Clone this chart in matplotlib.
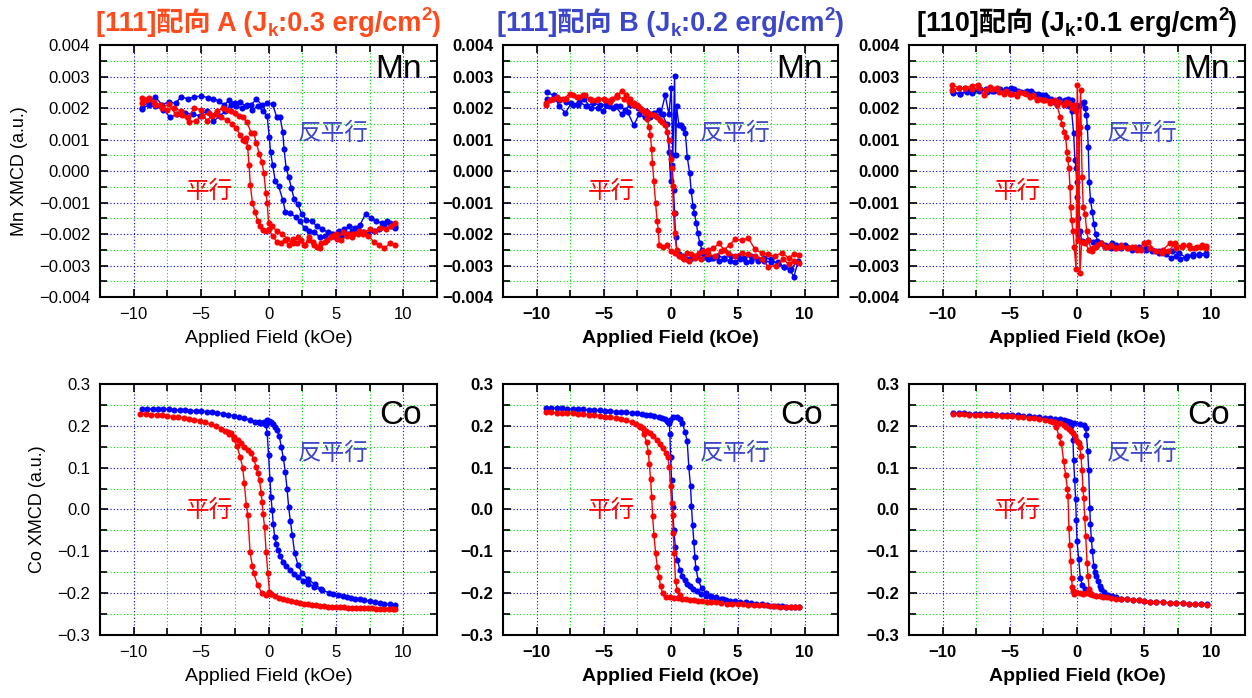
import matplotlib
matplotlib.use('Agg')
import matplotlib.pyplot as plt
from matplotlib.ticker import MultipleLocator, FuncFormatter
from matplotlib.transforms import offset_copy

# ---------------- Mn XMCD, [111] A ----------------
mnA_par_x1 = [-9.4, -8.9, -8.4, -7.9, -7.4, -6.9, -6.4, -5.9, -5.4, -4.9,
              -4.4, -3.9, -3.5, -3.1, -2.7, -2.4, -2.1, -1.9, -1.75, -1.65,
              -1.55, -1.45, -1.35, -1.2, -1.0, -0.8, -0.6, -0.4, -0.2, 0.0,
              0.3, 0.6, 0.9, 1.2, 1.5, 1.8, 2.1, 2.4, 2.7, 3.0,
              3.3, 3.6, 3.9, 4.3, 4.7, 5.1, 5.5, 5.9, 6.3, 6.7,
              7.1, 7.5, 7.9, 8.3, 8.7, 9.1, 9.4]
mnA_par_y1 = [0.00233, 0.00231, 0.00208, 0.0020, 0.00212, 0.0018, 0.00178, 0.00155, 0.0016, 0.00175,
              0.00185, 0.0018, 0.0017, 0.00162, 0.0015, 0.00135, 0.00115, 0.0010, 0.00095, 0.00105,
              0.00075, 0.0002, -0.00045, -0.0010, -0.0013, -0.0016, -0.00175, -0.00187, -0.0019, -0.00185,
              -0.00205, -0.00225, -0.0023, -0.0022, -0.00235, -0.00215, -0.0023, -0.0022, -0.00235, -0.0021,
              -0.00225, -0.0024, -0.0023, -0.0022, -0.00205, -0.00215, -0.00195, -0.0020, -0.0020, -0.0019,
              -0.00195, -0.00185, -0.0019, -0.0018, -0.00185, -0.00175, -0.00165]
mnA_par_x2 = [9.4, 9.0, 8.6, 8.2, 7.8, 7.4, 7.0, 6.6, 6.2, 5.8,
              5.4, 5.0, 4.6, 4.2, 3.8, 3.4, 3.0, 2.6, 2.2, 1.8,
              1.4, 1.0, 0.6, 0.25, 0.0, -0.1, -0.2, -0.35, -0.5, -0.7,
              -0.9, -1.1, -1.3, -1.6, -1.9, -2.2, -2.5, -2.8, -3.1, -3.4,
              -3.8, -4.2, -4.6, -5.0, -5.5, -6.0, -6.5, -7.0, -7.5, -8.0,
              -8.5, -9.0, -9.4]
mnA_par_y2 = [-0.00235, -0.0023, -0.00245, -0.00235, -0.00225, -0.00205, -0.0020, -0.0020, -0.0021, -0.00205,
              -0.0022, -0.0020, -0.0021, -0.00225, -0.00245, -0.00235, -0.0022, -0.00235, -0.0021, -0.0023,
              -0.00215, -0.0020, -0.0019, -0.00175, -0.00165, -0.0010, -0.0007, -0.00005, 0.0003, 0.00055,
              0.0009, 0.0012, 0.00122, 0.00155, 0.0017, 0.00175, 0.00185, 0.0019, 0.00195, 0.0020,
              0.0019, 0.00175, 0.0016, 0.00195, 0.0020, 0.0017, 0.0019, 0.0020, 0.00195, 0.0021,
              0.0022, 0.00225, 0.00215]
mnA_anti_x1 = [-9.4, -8.9, -8.4, -7.9, -7.4, -6.9, -6.5, -6.0, -5.5, -5.0,
               -4.5, -4.1, -3.7, -3.3, -2.9, -2.5, -2.1, -1.7, -1.3, -0.9,
               -0.5, -0.1, 0.3, 0.6, 0.85, 1.05, 1.15, 1.3, 1.5, 1.7,
               1.9, 2.15, 2.45, 2.8, 3.2, 3.6, 4.0, 4.4, 4.8, 5.2,
               5.6, 6.0, 6.4, 6.8, 7.2, 7.6, 8.0, 8.4, 8.8, 9.1, 9.4]
mnA_anti_y1 = [0.0020, 0.0022, 0.00235, 0.0021, 0.0022, 0.00215, 0.00235, 0.0023, 0.00235, 0.00238,
               0.00233, 0.0023, 0.00222, 0.0021, 0.00225, 0.00215, 0.0022, 0.00205, 0.0021, 0.00228,
               0.0021, 0.00215, 0.00212, 0.00172, 0.00172, 0.00125, 0.0007, 0.0001, -0.0002, -0.00055,
               -0.0009, -0.00105, -0.00135, -0.00155, -0.0016, -0.00175, -0.00185, -0.00195, -0.0020, -0.0019,
               -0.00185, -0.00175, -0.0018, -0.0017, -0.00135, -0.0015, -0.0016, -0.00165, -0.0016, -0.00175, -0.0018]
mnA_anti_x2 = [9.4, 9.0, 8.6, 8.2, 7.8, 7.4, 7.0, 6.6, 6.2, 5.8,
               5.4, 5.0, 4.6, 4.2, 3.8, 3.4, 3.0, 2.7, 2.3, 2.0,
               1.6, 1.25, 1.05, 0.75, 0.5, 0.3, 0.15, 0.05, -0.1, -0.4,
               -0.8, -1.2, -1.6, -2.0, -2.4, -2.8, -3.2, -3.6, -4.1, -4.6,
               -5.1, -5.6, -6.2, -6.8, -7.3, -7.8, -8.4, -8.9, -9.4]
mnA_anti_y2 = [-0.00175, -0.00165, -0.00175, -0.00185, -0.0019, -0.0020, -0.00195, -0.00185, -0.0019, -0.0020,
               -0.00205, -0.0021, -0.0020, -0.00205, -0.0021, -0.00195, -0.0019, -0.00182, -0.0016, -0.00145,
               -0.00134, -0.0013, -0.00091, -0.00049, -0.00033, 0.0002, 0.0006, 0.00108, 0.00174, 0.0019,
               0.00205, 0.00195, 0.0021, 0.0020, 0.00205, 0.0021, 0.0019, 0.00175, 0.00158, 0.0019,
               0.00175, 0.0018, 0.00185, 0.0018, 0.0017, 0.00195, 0.00205, 0.0021, 0.00196]

# ---------------- Mn XMCD, [111] B ----------------
mnB_par_x1 = [-9.3, -8.8, -8.3, -7.8, -7.3, -6.8, -6.4, -5.9, -5.4, -4.9,
              -4.4, -4.0, -3.6, -3.3, -3.0, -2.7, -2.4, -2.1, -1.9, -1.75,
              -1.6, -1.5, -1.42, -1.35, -1.25, -1.12, -1.0, -0.92, -0.84, -0.6,
              -0.3, 0.0, 0.3, 0.6, 0.9, 1.2, 1.5, 1.8, 2.1, 2.4,
              2.8, 3.2, 3.6, 4.0, 4.4, 4.8, 5.3, 5.8, 6.3, 6.8,
              7.3, 7.8, 8.3, 8.8, 9.2, 9.6]
mnB_par_y1 = [0.0021, 0.0023, 0.0023, 0.0023, 0.0024, 0.00235, 0.0024, 0.00225, 0.0023, 0.00225,
              0.0023, 0.0024, 0.00255, 0.0024, 0.0023, 0.00215, 0.00205, 0.00195, 0.00185, 0.00165,
              0.0014, 0.00114, 0.0007, 0.00027, -0.00032, -0.00101, -0.0016, -0.00187, -0.00235, -0.0024,
              -0.00235, -0.00255, -0.0026, -0.0027, -0.00275, -0.0026, -0.00265, -0.0027, -0.0026, -0.00255,
              -0.0025, -0.00245, -0.0023, -0.0025, -0.00235, -0.00217, -0.00219, -0.00213, -0.00249, -0.0026,
              -0.00265, -0.0027, -0.0026, -0.00275, -0.00265, -0.00267]
mnB_par_x2 = [9.6, 9.2, 8.8, 8.4, 7.9, 7.3, 6.8, 6.3, 5.8, 5.3,
              4.8, 4.3, 3.8, 3.3, 2.8, 2.3, 1.8, 1.4, 1.0, 0.7,
              0.45, 0.3, 0.22, 0.15, 0.08, 0.0, -0.12, -0.25, -0.45, -0.62,
              -0.8, -1.0, -1.25, -1.5, -1.75, -2.0, -2.25, -2.5, -2.8, -3.1,
              -3.5, -4.0, -4.5, -5.0, -5.5, -6.0, -6.5, -7.0, -7.5, -8.0,
              -8.5, -9.0, -9.3]
mnB_par_y2 = [-0.00293, -0.00285, -0.00295, -0.0028, -0.0030, -0.00304, -0.0028, -0.0027, -0.00265, -0.0026,
              -0.0027, -0.0026, -0.00255, -0.0027, -0.00265, -0.0028, -0.00275, -0.00285, -0.0028, -0.0027,
              -0.0025, -0.00197, -0.00133, -0.00048, 0.0001, 0.00037, 0.0010, 0.00123, 0.00145, 0.00155,
              0.00162, 0.0017, 0.00178, 0.00181, 0.00188, 0.00192, 0.0020, 0.00208, 0.0021, 0.0022,
              0.0023, 0.00235, 0.0022, 0.0023, 0.00225, 0.0023, 0.0024, 0.00235, 0.00245, 0.0023,
              0.00235, 0.00225, 0.00215]
mnB_anti_x1 = [-9.25, -8.7, -8.3, -7.85, -7.4, -6.9, -6.45, -5.95, -5.45, -5.05,
               -4.6, -4.1, -3.65, -3.2, -2.75, -2.35, -1.9, -1.5, -1.1, -0.75,
               -0.4, -0.12, 0.05, 0.17, 0.3, 0.37, 0.45, 0.62, 0.75, 0.95,
               1.1, 1.25, 1.42, 1.54, 1.68, 1.78, 1.92, 2.03, 2.18, 2.35,
               2.5, 2.8, 3.2, 3.6, 4.0, 4.4, 4.8, 5.2, 5.6, 6.0,
               6.5, 7.0, 7.5, 8.0, 8.5, 8.9, 9.2, 9.5]
mnB_anti_y1 = [0.0025, 0.0024, 0.00205, 0.00185, 0.00215, 0.0021, 0.0023, 0.0020, 0.0020, 0.00192,
               0.00205, 0.00205, 0.0018, 0.00187, 0.00145, 0.0018, 0.0017, 0.0018, 0.00175, 0.0018,
               0.0024, 0.0018, 0.00265, 0.0005, 0.00302, 0.0005, 0.00205, 0.00145, 0.00145, 0.00138,
               0.00122, 0.00043, -0.00005, -0.00064, -0.00112, -0.00133, -0.00165, -0.00197, -0.00229, -0.0025,
               -0.00272, -0.0028, -0.00275, -0.00285, -0.0028, -0.00285, -0.0029, -0.0028, -0.0029, -0.00285,
               -0.0028, -0.00285, -0.0029, -0.0029, -0.00305, -0.00315, -0.00335, -0.0029]
mnB_anti_x2 = [9.5, 9.0, 8.5, 8.0, 7.5, 7.0, 6.5, 6.0, 5.5, 5.0,
               4.5, 4.0, 3.5, 3.0, 2.5, 2.0, 1.6, 1.2, 0.9, 0.6,
               0.5, 0.37, 0.3, 0.22, 0.12, 0.0, -0.1, -0.3, -0.6, -0.9,
               -1.2, -1.5, -1.8, -2.1, -2.4, -2.7, -3.0, -3.4, -3.8, -4.3,
               -4.8, -5.3, -5.8, -6.3, -6.8, -7.3, -7.8, -8.3, -8.8, -9.25]
mnB_anti_y2 = [-0.00285, -0.0031, -0.00305, -0.00295, -0.0028, -0.00275, -0.00285, -0.0027, -0.00275, -0.0027,
               -0.0027, -0.00275, -0.0027, -0.00275, -0.00265, -0.0027, -0.00275, -0.0028, -0.0027, -0.00265,
               -0.00261, -0.00208, -0.00133, -0.0006, 0.0002, -0.00032, 0.0006, 0.0015, 0.0018, 0.00195,
               0.00185, 0.0017, 0.0019, 0.00195, 0.0020, 0.0021, 0.0021, 0.00195, 0.00205, 0.0020,
               0.0021, 0.0021, 0.00215, 0.00205, 0.0022, 0.0021, 0.0022, 0.00225, 0.0023, 0.0023]

# ---------------- Mn XMCD, [110] ----------------
mnC_par_x1 = [-9.3, -8.8, -8.3, -7.8, -7.4, -6.95, -6.45, -5.95, -5.45, -4.95,
              -4.45, -3.95, -3.5, -3.0, -2.5, -2.0, -1.5, -1.25, -1.1, -0.95,
              -0.84, -0.75, -0.69, -0.6, -0.52, -0.47, -0.4, -0.3, -0.2, -0.07,
              0.02, 0.12, 0.22, 0.35, 0.6, 0.9, 1.2, 1.5, 1.8, 2.1,
              2.5, 2.9, 3.3, 3.7, 4.1, 4.5, 5.0, 5.4, 5.9, 6.4,
              6.9, 7.4, 7.9, 8.4, 8.9, 9.3, 9.6]
mnC_par_y1 = [0.00274, 0.00264, 0.00264, 0.00271, 0.00274, 0.00242, 0.00267, 0.00264, 0.00245, 0.00245,
              0.00237, 0.00248, 0.00235, 0.00226, 0.00226, 0.00221, 0.0021, 0.00173, 0.0015, 0.00125,
              0.00109, 0.0006, 0.00037, 0.00008, -0.0005, -0.00115, -0.00157, -0.0019, -0.00242, -0.00311,
              0.00274, 0.0012, -0.00325, -0.00225, -0.0023, -0.0025, -0.00245, -0.00235, -0.0023, -0.0024,
              -0.00235, -0.00245, -0.0024, -0.00245, -0.0024, -0.0025, -0.0023, -0.00245, -0.00255, -0.0025,
              -0.0023, -0.00245, -0.00235, -0.00245, -0.0024, -0.00235, -0.00237]
mnC_par_x2 = [9.6, 9.2, 8.8, 8.3, 7.8, 7.3, 6.8, 6.3, 5.8, 5.3,
              4.8, 4.3, 3.8, 3.3, 2.8, 2.3, 1.8, 1.4, 1.1, 0.85,
              0.72, 0.6, 0.47, 0.38, 0.27, 0.2, 0.1, -0.05, -0.2, -0.4,
              -0.6, -0.8, -1.0, -1.3, -1.6, -2.0, -2.4, -2.8, -3.3, -3.8,
              -4.3, -4.8, -5.3, -5.8, -6.3, -6.8, -7.3, -7.8, -8.3, -8.8, -9.3]
mnC_par_y2 = [-0.00245, -0.0024, -0.00245, -0.00235, -0.0024, -0.0023, -0.00255, -0.0026, -0.00255, -0.00225,
              -0.0025, -0.0024, -0.00245, -0.00235, -0.00245, -0.0024, -0.0023, -0.0024, -0.00255, -0.0022,
              -0.00189, -0.00136, -0.00115, -0.0002, 0.00256, 0.0014, -0.0022, 0.0019, 0.0021, 0.0020,
              0.00215, 0.0022, 0.0021, 0.0022, 0.00225, 0.00215, 0.00225, 0.0023, 0.0024, 0.00245,
              0.0025, 0.00245, 0.00255, 0.0025, 0.0026, 0.00258, 0.00265, 0.0026, 0.00265, 0.00262, 0.00258]
mnC_anti_x1 = [-9.2, -8.7, -8.2, -7.8, -7.3, -6.8, -6.3, -5.8, -5.3, -4.9,
               -4.4, -3.9, -3.4, -2.9, -2.4, -1.9, -1.4, -1.0, -0.7, -0.4,
               -0.1, 0.15, 0.35, 0.5, 0.6, 0.7, 0.77, 0.84, 0.91, 1.01,
               1.14, 1.26, 1.38, 1.51, 1.8, 2.1, 2.5, 2.9, 3.3, 3.7,
               4.1, 4.6, 5.1, 5.6, 6.1, 6.6, 7.0, 7.4, 7.7, 8.2,
               8.6, 9.1, 9.6]
mnC_anti_y1 = [0.00248, 0.00245, 0.00255, 0.00248, 0.00255, 0.0026, 0.00255, 0.00258, 0.0026, 0.00264,
               0.00255, 0.0025, 0.00255, 0.00245, 0.0024, 0.0023, 0.0022, 0.00215, 0.0023, 0.00225,
               0.0021, 0.00205, 0.00216, 0.0022, 0.0020, 0.00178, 0.00141, 0.00077, -0.00035, -0.00093,
               -0.0013, -0.00168, -0.0020, -0.00221, -0.0023, -0.0024, -0.00245, -0.00235, -0.00245, -0.0024,
               -0.0025, -0.00245, -0.0025, -0.00255, -0.0026, -0.00265, -0.00275, -0.0027, -0.0028, -0.0027,
               -0.00265, -0.00268, -0.00266]
mnC_anti_x2 = [9.6, 9.1, 8.6, 8.1, 7.6, 7.1, 6.6, 6.1, 5.6, 5.1,
               4.6, 4.1, 3.6, 3.1, 2.6, 2.1, 1.6, 1.2, 0.8, 0.5,
               0.35, 0.22, 0.1, 0.05, 0.02, -0.02, -0.08, -0.15, -0.25, -0.4,
               -0.6, -0.9, -1.3, -1.7, -2.2, -2.7, -3.2, -3.7, -4.2, -4.7,
               -5.2, -5.7, -6.2, -6.7, -7.2, -7.7, -8.2, -8.7, -9.2]
mnC_anti_y2 = [-0.0026, -0.00265, -0.0027, -0.00275, -0.0026, -0.00255, -0.0026, -0.00255, -0.0025, -0.00245,
               -0.0024, -0.00245, -0.00235, -0.0024, -0.0023, -0.00235, -0.0023, -0.00225, -0.0022, -0.00225,
               -0.00221, -0.0019, -0.0020, -0.0015, -0.00082, -0.00035, 0.0001, 0.00035, 0.0012, 0.0019,
               0.00205, 0.00225, 0.0023, 0.0022, 0.00235, 0.0024, 0.00245, 0.00255, 0.0025, 0.0026,
               0.00255, 0.0026, 0.00255, 0.0025, 0.0026, 0.00255, 0.0025, 0.00245, 0.0025]

# ---------------- Co XMCD, [111] A ----------------
coA_par_x1 = [-9.5, -9.1, -8.7, -8.3, -7.9, -7.5, -7.1, -6.7, -6.3, -5.9,
              -5.5, -5.1, -4.7, -4.3, -3.9, -3.5, -3.2, -2.9, -2.6, -2.34,
              -2.1, -1.92, -1.8, -1.65, -1.54, -1.37, -1.2, -1.1, -0.8, -0.5,
              -0.2, 0.2, 0.5, 0.8, 1.1, 1.4, 1.7, 2.0, 2.3, 2.6,
              2.9, 3.2, 3.5, 3.8, 4.1, 4.4, 4.7, 5.0, 5.3, 5.6,
              5.9, 6.2, 6.5, 6.8, 7.1, 7.4, 7.7, 8.0, 8.3, 8.6,
              8.9, 9.2, 9.4]
coA_par_y1 = [0.229, 0.228, 0.227, 0.226, 0.225, 0.224, 0.222, 0.221, 0.219, 0.217,
              0.215, 0.212, 0.208, 0.204, 0.199, 0.193, 0.187, 0.180, 0.168, 0.151,
              0.125, 0.100, 0.064, 0.010, -0.014, -0.102, -0.135, -0.153, -0.181, -0.200,
              -0.205, -0.202, -0.207, -0.211, -0.214, -0.217, -0.219, -0.221, -0.223, -0.225,
              -0.226, -0.228, -0.229, -0.230, -0.231, -0.232, -0.233, -0.233, -0.234, -0.234,
              -0.235, -0.235, -0.235, -0.236, -0.236, -0.236, -0.236, -0.237, -0.237, -0.237,
              -0.237, -0.237, -0.237]
coA_par_x2 = [-3.0, -2.79, -2.55, -2.29, -2.05, -1.79, -1.55, -1.29, -1.1, -0.92,
              -0.8, -0.67, -0.55, -0.48, -0.4, -0.3, -0.18, -0.05, 0.07, 0.2]
coA_par_y2 = [0.186, 0.182, 0.174, 0.166, 0.158, 0.150, 0.143, 0.134, 0.120, 0.102,
              0.088, 0.070, 0.040, 0.018, -0.010, -0.042, -0.101, -0.153, -0.197, -0.202]
coA_anti_x1 = [-9.4, -9.0, -8.6, -8.2, -7.8, -7.4, -7.0, -6.6, -6.2, -5.8,
               -5.4, -5.0, -4.6, -4.2, -3.8, -3.4, -3.0, -2.6, -2.2, -1.8,
               -1.4, -1.0, -0.7, -0.4, -0.2, -0.1, 0.0, 0.1, 0.18, 0.27,
               0.35, 0.45, 0.57, 0.7, 0.88, 1.07, 1.3, 1.57, 1.9, 2.2,
               2.55, 2.94, 3.4, 3.93, 4.5, 4.8, 5.17, 5.5, 5.8, 6.1,
               6.4, 6.75, 7.1, 7.5, 7.9, 8.25, 8.6, 9.0, 9.4]
coA_anti_y1 = [0.241, 0.241, 0.240, 0.240, 0.240, 0.239, 0.238, 0.237, 0.237, 0.236,
               0.235, 0.235, 0.234, 0.232, 0.231, 0.229, 0.227, 0.224, 0.221, 0.218,
               0.214, 0.210, 0.208, 0.206, 0.203, 0.183, 0.130, 0.074, 0.030, -0.002,
               -0.035, -0.065, -0.083, -0.097, -0.112, -0.125, -0.136, -0.145, -0.154, -0.161,
               -0.170, -0.177, -0.186, -0.193, -0.199, -0.202, -0.205, -0.207, -0.209, -0.211,
               -0.213, -0.215, -0.217, -0.219, -0.221, -0.223, -0.225, -0.227, -0.229]
coA_anti_x2 = [-0.6, -0.35, -0.1, 0.05, 0.19, 0.35, 0.5, 0.64, 0.8, 0.94,
               1.1, 1.24, 1.37, 1.49, 1.62, 1.76, 1.94, 2.19, 2.49, 2.94, 3.43, 3.9]
coA_anti_y2 = [0.206, 0.208, 0.2135, 0.212, 0.209, 0.204, 0.198, 0.191, 0.175, 0.150,
               0.122, 0.090, 0.050, 0.006, -0.028, -0.061, -0.105, -0.133, -0.152, -0.167, -0.179, -0.190]

# ---------------- Co XMCD, [111] B ----------------
coB_par_x1 = [-9.3, -8.9, -8.5, -8.1, -7.7, -7.3, -6.9, -6.5, -6.1, -5.7,
              -5.3, -4.9, -4.5, -4.1, -3.7, -3.3, -2.9, -2.55, -2.25, -1.99,
              -1.79, -1.66, -1.59, -1.49, -1.41, -1.34, -1.24, -1.12, -0.99, -0.87,
              -0.74, -0.6, -0.35, -0.05, 0.25, 0.55, 0.85, 1.15, 1.45, 1.75,
              2.05, 2.35, 2.7, 3.05, 3.4, 3.8, 4.2, 4.6, 5.0, 5.4,
              5.8, 6.2, 6.6, 7.0, 7.4, 7.8, 8.2, 8.6, 9.0, 9.3, 9.6]
coB_par_y1 = [0.232, 0.232, 0.231, 0.231, 0.230, 0.230, 0.229, 0.228, 0.227, 0.226,
              0.224, 0.222, 0.220, 0.218, 0.216, 0.213, 0.209, 0.204, 0.198, 0.180,
              0.162, 0.138, 0.109, 0.072, 0.031, -0.016, -0.061, -0.103, -0.137, -0.161,
              -0.184, -0.200, -0.210, -0.210, -0.211, -0.212, -0.213, -0.215, -0.216, -0.217,
              -0.218, -0.219, -0.220, -0.221, -0.222, -0.224, -0.225, -0.226, -0.226, -0.227,
              -0.228, -0.228, -0.229, -0.229, -0.230, -0.231, -0.232, -0.232, -0.233, -0.234, -0.234]
coB_par_x2 = [-2.25, -2.03, -1.8, -1.54, -1.3, -1.04, -0.8, -0.55, -0.35, -0.2,
              -0.1, 0.0, 0.07, 0.15, 0.2, 0.27, 0.37, 0.5, 0.7]
coB_par_y2 = [0.199, 0.194, 0.188, 0.182, 0.175, 0.166, 0.157, 0.146, 0.135, 0.125,
              0.102, 0.055, 0.015, -0.013, -0.057, -0.105, -0.172, -0.192, -0.205]
coB_anti_x1 = [-9.3, -8.9, -8.5, -8.1, -7.7, -7.3, -6.9, -6.5, -6.1, -5.7,
               -5.3, -4.9, -4.5, -4.1, -3.7, -3.3, -2.9, -2.5, -2.1, -1.8,
               -1.5, -1.2, -0.9, -0.65, -0.42, -0.2, -0.1, -0.05, 0.0, 0.07,
               0.15, 0.25, 0.35, 0.5, 0.7, 0.88, 1.07, 1.25, 1.44, 1.7,
               1.94, 2.3, 2.68, 3.05, 3.42, 3.8, 4.17]
coB_anti_y1 = [0.243, 0.243, 0.242, 0.242, 0.241, 0.240, 0.239, 0.239, 0.238, 0.237,
               0.237, 0.236, 0.235, 0.234, 0.233, 0.232, 0.231, 0.230, 0.228, 0.227,
               0.225, 0.223, 0.220, 0.218, 0.2155, 0.210, 0.206, 0.180, 0.126, 0.070,
               0.007, -0.049, -0.089, -0.120, -0.145, -0.158, -0.168, -0.177, -0.184, -0.190,
               -0.196, -0.202, -0.207, -0.210, -0.212, -0.214, -0.216]
coB_anti_x2 = [-0.3, -0.05, 0.2, 0.5, 0.7, 0.89, 1.07, 1.24, 1.36, 1.49,
               1.56, 1.64, 1.74, 1.81, 1.89, 2.06, 2.31, 2.68, 3.05, 3.42,
               3.9, 4.42, 4.8, 5.16, 5.6, 6.0, 6.4, 6.8, 7.2, 7.64,
               8.0, 8.3, 8.63, 9.0, 9.3, 9.58]
coB_anti_y2 = [0.212, 0.214, 0.220, 0.220, 0.216, 0.206, 0.186, 0.164, 0.102, 0.055,
               0.009, -0.037, -0.078, -0.113, -0.141, -0.168, -0.188, -0.200, -0.206, -0.210,
               -0.215, -0.218, -0.219, -0.220, -0.222, -0.224, -0.226, -0.227, -0.229, -0.230,
               -0.231, -0.231, -0.232, -0.232, -0.232, -0.232]

# ---------------- Co XMCD, [110] ----------------
coC_par_x1 = [-9.2, -8.8, -8.4, -8.0, -7.6, -7.2, -6.8, -6.4, -6.0, -5.6,
              -5.2, -4.8, -4.4, -4.0, -3.6, -3.2, -2.8, -2.4, -2.0, -1.75,
              -1.54, -1.34, -1.16, -0.99, -0.84, -0.72, -0.67, -0.6, -0.53, -0.47,
              -0.4, -0.35, -0.3, -0.2, -0.05, 0.2, 0.45, 0.7, 0.94, 1.2,
              1.45, 1.7, 1.93, 2.2, 2.5, 2.92, 3.3, 3.7, 4.16, 4.6,
              5.0, 5.4, 5.9, 6.4, 6.9, 7.4, 7.88, 8.3, 8.8, 9.2, 9.67]
coC_par_y1 = [0.228, 0.228, 0.228, 0.227, 0.227, 0.226, 0.226, 0.225, 0.225, 0.224,
              0.223, 0.223, 0.222, 0.221, 0.219, 0.218, 0.216, 0.214, 0.212, 0.208,
              0.198, 0.175, 0.159, 0.115, 0.083, 0.050, 0.032, -0.044, -0.085, -0.123,
              -0.163, -0.185, -0.195, -0.202, -0.198, -0.200, -0.201, -0.200, -0.202, -0.205,
              -0.207, -0.208, -0.209, -0.210, -0.211, -0.213, -0.214, -0.215, -0.216, -0.217,
              -0.218, -0.220, -0.221, -0.222, -0.223, -0.224, -0.224, -0.225, -0.226, -0.227, -0.228]
coC_par_x2 = [-1.6, -1.29, -1.0, -0.79, -0.6, -0.42, -0.3, -0.17, -0.05, 0.05,
              0.12, 0.2, 0.3, 0.37, 0.45, 0.5, 0.58, 0.65, 0.75, 0.82, 0.9, 1.0]
coC_par_y2 = [0.209, 0.206, 0.203, 0.198, 0.193, 0.187, 0.182, 0.175, 0.167, 0.162,
              0.158, 0.150, 0.127, 0.095, 0.050, 0.028, -0.020, -0.064, -0.127, -0.159, -0.190, -0.200]
coC_anti_x1 = [-9.2, -8.8, -8.4, -8.0, -7.6, -7.2, -6.8, -6.4, -6.0, -5.6,
               -5.2, -4.8, -4.4, -4.0, -3.6, -3.2, -2.8, -2.4, -2.0, -1.6,
               -1.29, -1.0, -0.75, -0.55, -0.42, -0.3, -0.25, -0.17, -0.1, -0.05,
               0.0, 0.13, 0.25, 0.4, 0.6, 0.85, 1.05]
coC_anti_y1 = [0.230, 0.230, 0.230, 0.229, 0.229, 0.229, 0.228, 0.228, 0.227, 0.227,
               0.226, 0.226, 0.225, 0.224, 0.223, 0.222, 0.221, 0.219, 0.218, 0.217,
               0.216, 0.214, 0.212, 0.210, 0.200, 0.167, 0.119, 0.070, 0.024, -0.025,
               -0.075, -0.119, -0.165, -0.180, -0.190, -0.198, -0.201]
coC_anti_x2 = [-0.6, -0.2, 0.2, 0.5, 0.64, 0.7, 0.8, 0.87, 0.95, 1.0,
               1.07, 1.15, 1.25, 1.35, 1.45, 1.56, 1.69, 1.81, 2.0, 2.3,
               2.6, 2.92, 3.3, 3.7, 4.16, 4.6, 5.0, 5.4, 5.9, 6.4,
               6.9, 7.4, 7.88, 8.3, 8.8, 9.2, 9.67]
coC_anti_y2 = [0.210, 0.207, 0.205, 0.203, 0.194, 0.179, 0.140, 0.095, 0.004, -0.035,
               -0.071, -0.100, -0.135, -0.150, -0.159, -0.170, -0.183, -0.190, -0.198, -0.205,
               -0.208, -0.210, -0.213, -0.215, -0.216, -0.217, -0.219, -0.220, -0.221, -0.222,
               -0.223, -0.224, -0.224, -0.225, -0.225, -0.226, -0.226]

# title pieces: (text, kind) with kind n=normal, sub, sup
titles = [
    [('[111]配向 A (J', 'n'), ('k', 'sub'), (':0.3 erg/cm', 'n'), ('2', 'sup'), (')', 'n')],
    [('[111]配向 B (J', 'n'), ('k', 'sub'), (':0.2 erg/cm', 'n'), ('2', 'sup'), (')', 'n')],
    [('[110]配向 (J', 'n'), ('k', 'sub'), (':0.1 erg/cm', 'n'), ('2', 'sup'), (')', 'n')],
]
title_colors = ['#FF4A1C', '#3C46C8', '#000000']

mn_panels = [
    [(mnA_anti_x1, mnA_anti_y1), (mnA_anti_x2, mnA_anti_y2), (mnA_par_x1, mnA_par_y1), (mnA_par_x2, mnA_par_y2)],
    [(mnB_anti_x1, mnB_anti_y1), (mnB_anti_x2, mnB_anti_y2), (mnB_par_x1, mnB_par_y1), (mnB_par_x2, mnB_par_y2)],
    [(mnC_anti_x1, mnC_anti_y1), (mnC_anti_x2, mnC_anti_y2), (mnC_par_x1, mnC_par_y1), (mnC_par_x2, mnC_par_y2)],
]
co_panels = [
    [(coA_anti_x1, coA_anti_y1), (coA_anti_x2, coA_anti_y2), (coA_par_x1, coA_par_y1), (coA_par_x2, coA_par_y2)],
    [(coB_anti_x1, coB_anti_y1), (coB_anti_x2, coB_anti_y2), (coB_par_x1, coB_par_y1), (coB_par_x2, coB_par_y2)],
    [(coC_anti_x1, coC_anti_y1), (coC_anti_x2, coC_anti_y2), (coC_par_x1, coC_par_y1), (coC_par_x2, coC_par_y2)],
]
curve_colors = ['#0000FF', '#0000FF', '#FF0000', '#FF0000']

plt.rcParams['font.family'] = ['Liberation Sans', 'Noto Sans CJK JP', 'DejaVu Sans']
plt.rcParams['axes.unicode_minus'] = True

fig = plt.figure(figsize=(12.52, 6.98), dpi=100)
renderer = fig.canvas.get_renderer()

lefts = [0.0799, 0.4018, 0.7260]
widths = [0.2692, 0.2676, 0.2684]
rows = [(0.5745, 0.3610), (0.0903, 0.3596)]


def fmt3(v, pos):
    s = f'{v:.3f}'
    if s == '-0.000':
        s = '0.000'
    return s.replace('-', '\u2212')


def fmt1(v, pos):
    s = f'{v:.1f}'
    if s == '-0.0':
        s = '0.0'
    return s.replace('-', '\u2212')


def rich_title(ax, pieces, y, color):
    # lay out the pieces left to right, centred over the axes
    placed = []
    total = 0.0
    for s, kind in pieces:
        size = 19.5 if kind == 'n' else 13.5
        t = ax.text(0.5, y, s, transform=ax.transAxes, ha='left', va='baseline',
                    fontsize=size, fontweight='bold', color=color,
                    family=['Liberation Sans', 'Noto Sans CJK JP'])
        w = t.get_window_extent(renderer).width
        placed.append((t, w, kind))
        total += w
    x = -total / 2
    for t, w, kind in placed:
        dy = {'n': 0, 'sub': -5, 'sup': 11}[kind]
        t.set_transform(offset_copy(ax.transAxes, fig=fig, x=x, y=dy, units='dots'))
        x += w


for r, (elem, panels) in enumerate([('Mn', mn_panels), ('Co', co_panels)]):
    bottom, height = rows[r]
    for c in range(3):
        ax = fig.add_axes([lefts[c], bottom, widths[c], height])
        for (xs, ys), col in zip(panels[c], curve_colors):
            ax.plot(xs, ys, color=col, lw=1.0, marker='o', ms=4.4, mew=0, zorder=3)

        ax.set_xlim(-12.5, 12.5)
        ax.xaxis.set_major_locator(MultipleLocator(5))
        ax.xaxis.set_minor_locator(MultipleLocator(2.5))
        if elem == 'Mn':
            ax.set_ylim(-0.004, 0.004)
            ax.yaxis.set_major_locator(MultipleLocator(0.001))
            ax.yaxis.set_minor_locator(MultipleLocator(0.0005))
            ax.yaxis.set_major_formatter(FuncFormatter(fmt3))
        else:
            ax.set_ylim(-0.3, 0.3)
            ax.yaxis.set_major_locator(MultipleLocator(0.1))
            ax.yaxis.set_minor_locator(MultipleLocator(0.05))
            ax.yaxis.set_major_formatter(FuncFormatter(fmt1))

        ax.set_axisbelow(True)
        ax.grid(which='major', color='#0000FF', linestyle=(0, (1, 2)), lw=0.8)
        ax.grid(which='minor', color='#00E000', linestyle=(0, (1, 2)), lw=0.8)
        ax.tick_params(which='both', direction='in', top=True, right=True, width=1.2)
        ax.tick_params(which='major', length=6, labelsize=12, pad=7)
        ax.tick_params(which='minor', length=5)
        for sp in ax.spines.values():
            sp.set_linewidth(1.5)

        weight = 'normal' if c == 0 else 'bold'
        for lbl in ax.get_xticklabels() + ax.get_yticklabels():
            lbl.set_fontweight(weight)
        ax.set_xlabel('Applied Field (kOe)', fontsize=14, fontweight=weight, labelpad=6)
        if c == 0:
            ax.set_ylabel(f'{elem} XMCD (a.u.)', fontsize=13, labelpad=8)

        # element tag and curve labels
        ax.text(0.955, 0.87 if elem == 'Mn' else 0.84, elem, transform=ax.transAxes,
                ha='right', va='baseline', fontsize=24)
        ax.text(0.588, 0.648 if elem == 'Mn' else 0.725, '反平行', transform=ax.transAxes,
                ha='left', va='center', fontsize=17, color='#4048C8', family='Noto Sans CJK JP')
        ax.text(0.253, 0.418 if elem == 'Mn' else 0.495, '平行', transform=ax.transAxes,
                ha='left', va='center', fontsize=17, color='#FF0000', family='Noto Sans CJK JP')

        if r == 0:
            rich_title(ax, titles[c], 1.0 + 14 / 252, title_colors[c])

fig.savefig('out.png', dpi=100)
